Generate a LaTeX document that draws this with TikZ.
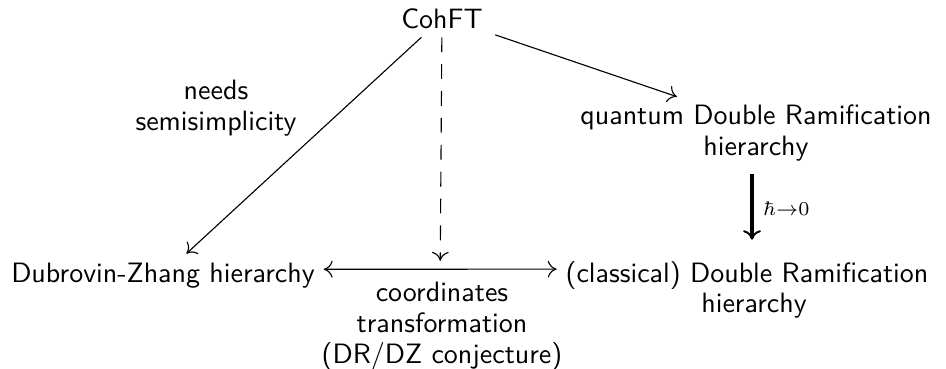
\documentclass[tikz,border=0pt]{standalone}
\usetikzlibrary{arrows.meta}
\begin{document}
\begin{tikzpicture}[x=0.35714pt,y=-0.35714pt,
  font=\fontsize{10}{11}\selectfont\sffamily,
  box/.style={inner sep=3pt},
  lbl/.style={inner sep=0pt, align=center},
  arr/.style={-{To[length=3.2pt,width=6pt]}, line width=0.4pt},
  dbl/.style={{To[length=3.2pt,width=6pt]}-{To[length=3.2pt,width=6pt]}, line width=0.4pt},
  thickarr/.style={-{To[length=3.4pt,width=6.4pt,line width=0.7pt]}, line width=1.1pt},
  dsh/.style={arr, dash pattern=on 5.3pt off 4.3pt},
]
\useasboundingbox (0,0) rectangle (946,368);
% nodes
\node[box, anchor=base] (coh) at (442,28) {CohFT};
\node[box, anchor=base] (dz) at (163,282) {Dubrovin-Zhang hierarchy};
\node[box, anchor=base] (dr) at (747,282) {(classical) Double Ramification};
\node[lbl, anchor=base] (drh) at (754,312) {hierarchy};
\node[box, align=center] (qdr) at (756,133) {quantum Double Ramification\\hierarchy};
% labels
\node[lbl, anchor=north] (ns) at (216,80) {needs\\semisimplicity};
\node[lbl, anchor=north] (ct) at (442,282) {coordinates\\transformation\\(DR/DZ conjecture)};
% connectors
\draw[arr] (coh) -- (dz);
\draw[arr] ([xshift=1.3pt,yshift=0.86pt]coh.south east) -- ([xshift=-28.2pt,yshift=-0.3pt]qdr.north);
\draw[dbl] ([yshift=2.1pt]dz.east) -- ([yshift=2.1pt]dr.west)
  coordinate[pos=0.5] (mid);
\draw[dsh, shorten >=3pt] (coh) -- (mid);
\draw[thickarr, shorten >=4.4pt] ([xshift=-1.43pt,yshift=-1.4pt]qdr.south) -- ([xshift=-1.43pt]qdr.south |- dr.north)
  node[pos=0.45, right=3.5pt, inner sep=0pt] (hb) {$\scriptstyle\hbar\to0$};
\end{tikzpicture}
\end{document}
